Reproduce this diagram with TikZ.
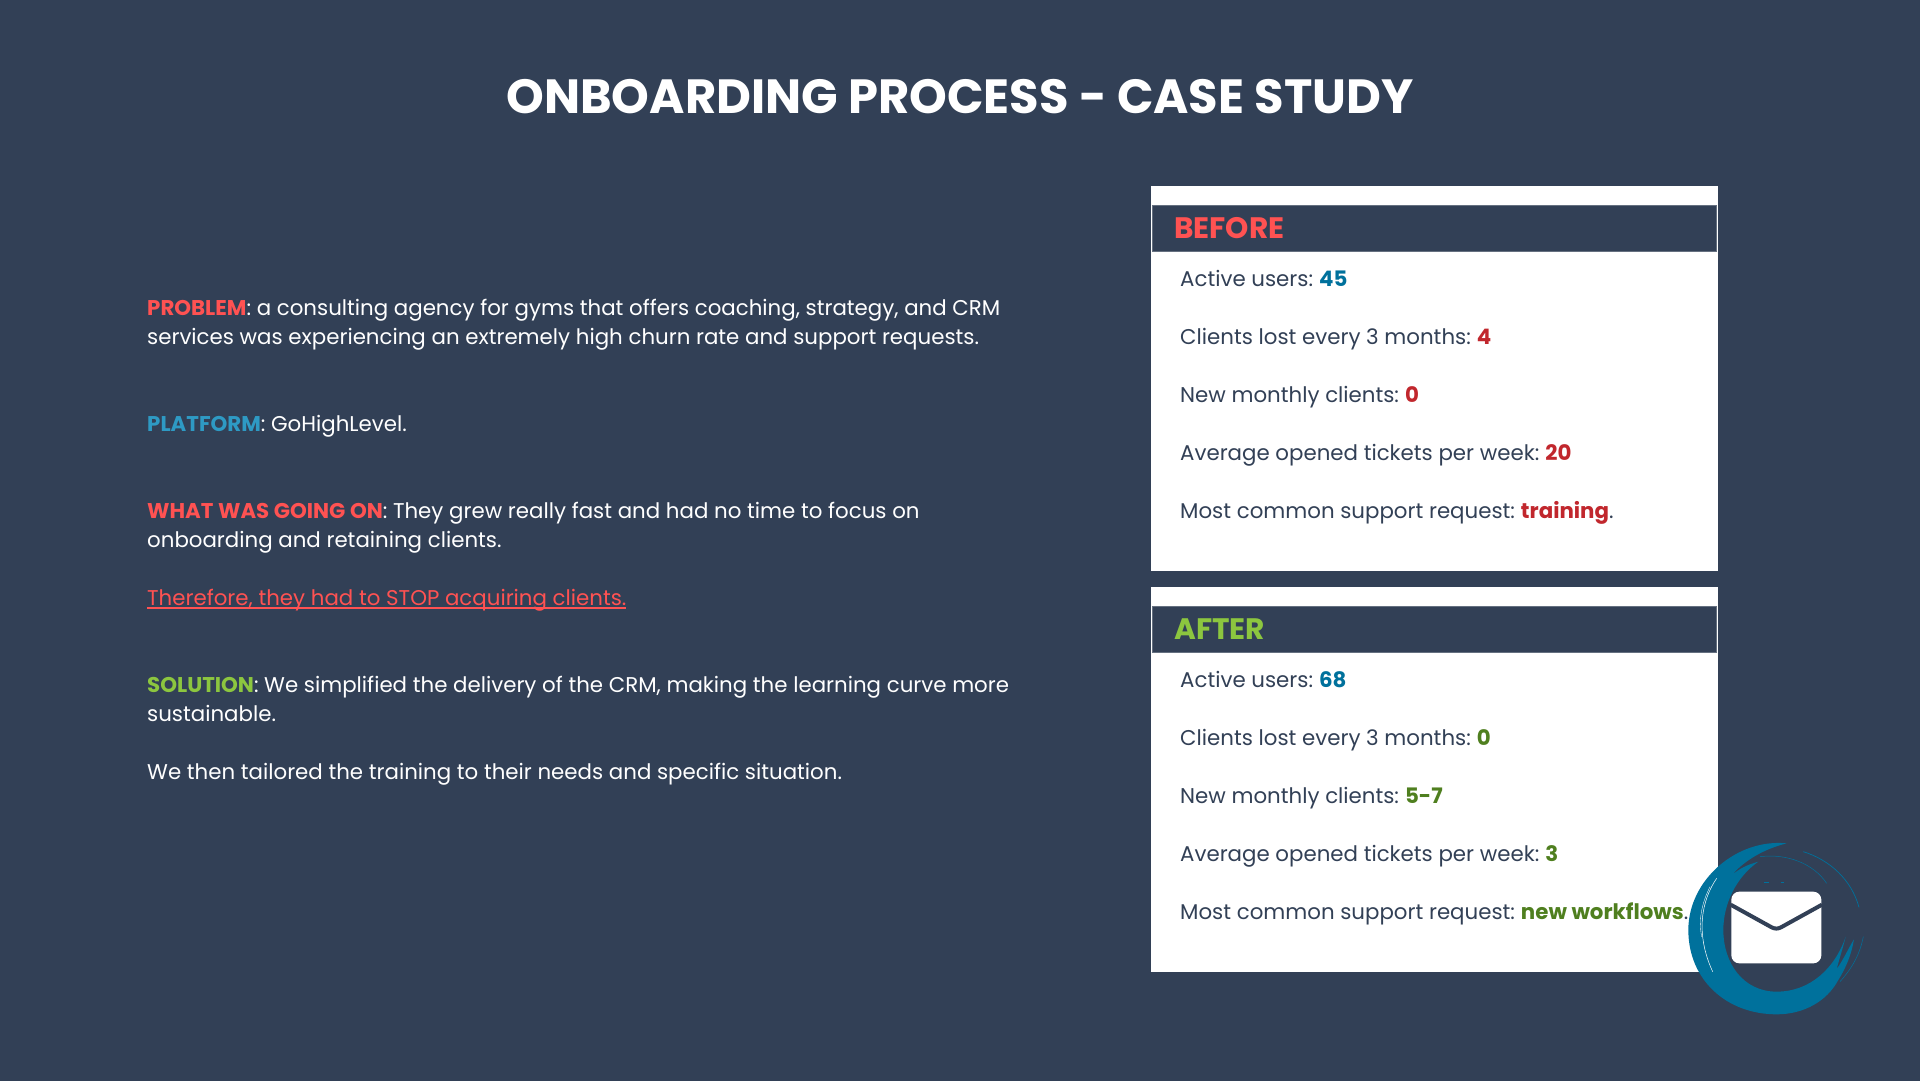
\documentclass[tikz,border=0pt]{standalone}
\usepackage{fontspec}
\setmainfont{Poppins}
\definecolor{bgc}{HTML}{324056}
\definecolor{redl}{HTML}{FF5252}
\definecolor{bluel}{HTML}{2E9AC4}
\definecolor{greenl}{HTML}{8CC63F}
\definecolor{redd}{HTML}{C1272D}
\definecolor{teald}{HTML}{00719C}
\definecolor{greend}{HTML}{4F7F1F}
\newcommand{\fsz}[1]{\fontsize{#1}{#1}\selectfont}
\newcommand{\rd}[1]{\textcolor{redd}{\textbf{ #1}}}
\newcommand{\gd}[1]{\textcolor{greend}{\textbf{ #1}}}
\newcommand{\td}[1]{\textcolor{teald}{\textbf{ #1}}}
\newsavebox{\ulbox}
\newcommand{\ulined}[1]{\sbox{\ulbox}{#1}\usebox{\ulbox}\llap{\rule[-3pt]{\wd\ulbox}{1.4pt}}}
\tikzset{
 x=1pt,y=-1pt,
 lefttext/.style={anchor=base west,inner sep=0pt,text=white,font=\fsz{21.33}},
 righttext/.style={anchor=base west,inner sep=0pt,text=bgc,font=\fsz{21.33}},
 headtext/.style={anchor=base west,inner sep=0pt,font=\fsz{29.6}\bfseries},
 panel/.style={fill=white,draw=none},
 headbar/.style={fill=bgc,draw=bgc!75!white,line width=1pt},
}
\begin{document}
\begin{tikzpicture}
\useasboundingbox (0,0) rectangle (1920,1080);
\fill[bgc] (-5,-5) rectangle (1925,1085);
\node[anchor=base,inner sep=0pt,text=white,font=\fsz{48}\bfseries] (title) at (960,113) {ONBOARDING PROCESS - CASE STUDY};

\node[lefttext] (l1) at (147,315.5) {\textcolor{redl}{\textbf{PROBLEM}}: a consulting agency for gyms that offers coaching, strategy, and CRM};
\node[lefttext] (l2) at (147,344.5) {services was experiencing an extremely high churn rate and support requests.};
\node[lefttext] (l3) at (147,431.5) {\textcolor{bluel}{\textbf{PLATFORM}}: GoHighLevel.};
\node[lefttext] (l4) at (147,518.5) {\textcolor{redl}{\textbf{WHAT WAS GOING ON}}: They grew really fast and had no time to focus on};
\node[lefttext] (l5) at (147,547.5) {onboarding and retaining clients.};
\node[lefttext,text=redl] (l6) at (147,605.5) {\ulined{Therefore, they had to STOP acquiring clients.}};
\node[lefttext] (l7) at (147,692.5) {\textcolor{greenl}{\textbf{SOLUTION}}: We simplified the delivery of the CRM, making the learning curve more};
\node[lefttext] (l8) at (147,721.5) {sustainable.};
\node[lefttext] (l9) at (147,779.5) {We then tailored the training to their needs and specific situation.};

\path[panel] (1151,186) rectangle (1717.5,571);
\path[headbar] (1152,205) rectangle (1716.5,251.5);
\node[headtext,text=redl] (hb) at (1174,238.5) {BEFORE};
\node[righttext] (b1) at (1180,286.5) {Active users:\td{45}};
\node[righttext] (b2) at (1180,344.5) {Clients lost every 3 months:\rd{4}};
\node[righttext] (b3) at (1180,402.5) {New monthly clients:\rd{0}};
\node[righttext] (b4) at (1180,460.5) {Average opened tickets per week:\rd{20}};
\node[righttext] (b5) at (1180,518.5) {Most common support request:\rd{training}.};

\path[panel] (1151,587) rectangle (1717.5,972);
\path[headbar] (1152,606) rectangle (1716.5,652.5);
\node[headtext,text=greenl] (ha) at (1174,639.5) {AFTER};
\node[righttext] (a1) at (1180,687.5) {Active users:\td{68}};
\node[righttext] (a2) at (1180,745.5) {Clients lost every 3 months:\gd{0}};
\node[righttext] (a3) at (1180,803.5) {New monthly clients:\gd{5-7}};
\node[righttext] (a4) at (1180,861.5) {Average opened tickets per week:\gd{3}};
\node[righttext] (a5) at (1180,919.5) {Most common support request:\gd{new workflows}.};

% logo: brush ring and envelope, drawn in 3x zoom coordinates
\begin{scope}[shift={(1660,820)},x=0.3333pt,y=-0.3333pt]
\fill[teald] (380,70) .. controls (230,55) and (85,180) .. (85,330)
  .. controls (85,480) and (200,583) .. (350,583)
  .. controls (430,583) and (500,545) .. (535,480)
  .. controls (560,440) and (575,400) .. (582,358)
  .. controls (565,385) and (550,420) .. (530,447)
  .. controls (540,410) and (550,380) .. (557,350)
  .. controls (525,445) and (450,515) .. (350,515)
  .. controls (250,515) and (190,430) .. (190,330)
  .. controls (190,250) and (230,170) .. (295,125)
  .. controls (260,135) and (240,145) .. (215,165)
  .. controls (260,115) and (320,85) .. (380,70) -- cycle;
\draw[white,line width=0.5pt] (170,175) .. controls (125,240) and (105,340) .. (158,455);
\draw[white,line width=0.35pt] (150,200) .. controls (125,250) and (115,300) .. (125,350);
\draw[teald,line width=0.7pt] (430,95) .. controls (510,120) and (575,180) .. (597,262);
\draw[teald,line width=0.5pt] (300,110) .. controls (380,100) and (460,130) .. (500,190);
\draw[teald,line width=0.5pt] (610,350) .. controls (600,400) and (580,440) .. (540,485);
\draw[teald,line width=0.5pt] (312,187) -- (328,187) (362,186) -- (372,186);
\fill[white,rounded corners=8pt] (214,215) rectangle (484,430);
\draw[bgc,line width=4pt,line join=round] (212,254) -- (335,322) .. controls (345,327) and (353,327) .. (363,322) -- (486,254);
\end{scope}
\end{tikzpicture}
\end{document}
